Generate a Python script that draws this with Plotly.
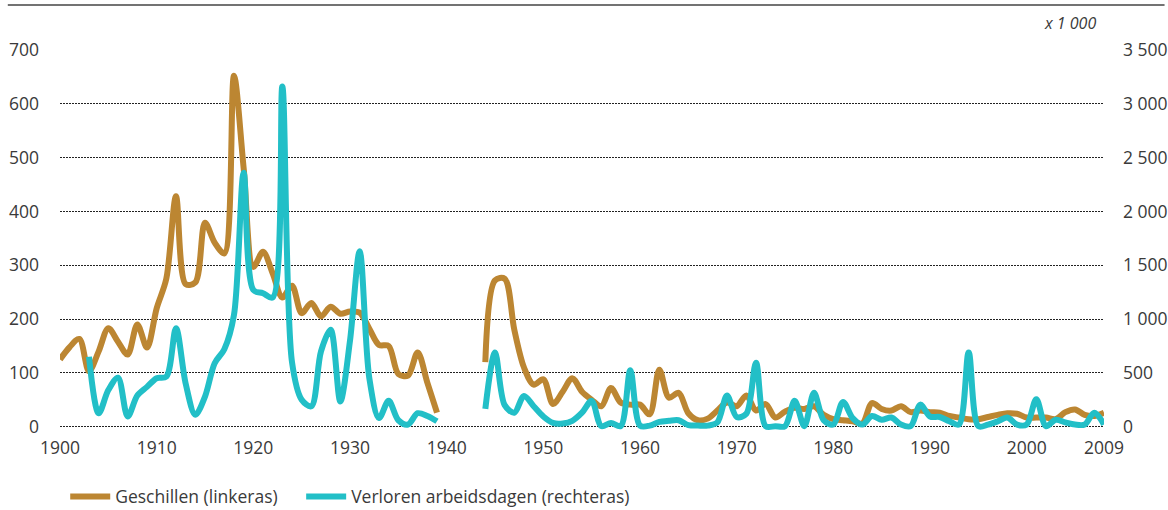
import plotly.graph_objects as go

# Jaartallen; 1940-1943 ontbreken (geen gegevens)
years = list(range(1900, 2009))

# Geschillen (linkeras), 1900-1939
geschillen_voor = [
    125, 148, 163, 103, 140, 183, 158, 134, 190, 147,
    220, 275, 428, 265, 268, 379, 342, 322, 652, 480,
    297, 325, 285, 240, 262, 211, 230, 205, 223, 210,
    214, 212, 182, 152, 150, 98, 95, 138, 82, 26,
]
# Geschillen (linkeras), 1944-2008
geschillen_na = [
    120, 272, 275, 180, 110, 78, 88, 42, 65, 90,
    65, 50, 38, 72, 45, 41, 41, 23, 106, 54,
    63, 25, 12, 15, 30, 45, 38, 58, 30, 42,
    17, 28, 35, 33, 38, 22, 14, 12, 10, 6,
    44, 33, 30, 38, 27, 30, 27, 26, 20, 17,
    14, 14, 18, 22, 25, 24, 17, 17, 17, 14,
    27, 32, 22, 20, 26,
]

# Verloren arbeidsdagen x 1 000 (rechteras), 1900-1939
dagen_voor = [
    None, None, None, 650, 125, 340, 455, 95, 290, 370,
    450, 465, 915, 400, 110, 280, 590, 720, 1040, 2360,
    1270, 1240, 1200, 3160, 600, 250, 190, 700, 900, 235,
    800, 1630, 450, 80, 240, 60, 20, 125, 100, 50,
]
# Verloren arbeidsdagen x 1 000 (rechteras), 1944-2008
dagen_na = [
    165, 690, 200, 130, 285, 190, 95, 35, 30, 55,
    130, 240, 5, 35, 5, 525, 10, 10, 45, 55,
    60, 15, 10, 10, 40, 290, 90, 120, 595, 5,
    5, 5, 240, 5, 315, 60, 20, 230, 80, 20,
    100, 65, 85, 20, 5, 205, 95, 90, 50, 20,
    690, 5, 20, 50, 85, 20, 20, 255, 5, 65,
    40, 20, 20, 130, 20,
]

oorlog = [None] * 4  # 1940-1943
geschillen = geschillen_voor + oorlog + geschillen_na
dagen = dagen_voor + oorlog + dagen_na

x_ticks = [1900, 1910, 1920, 1930, 1940, 1950, 1960, 1970, 1980, 1990, 2000, 2008]
x_labels = ["1900", "1910", "1920", "1930", "1940", "1950", "1960", "1970",
            "1980", "1990", "2000", "2009"]
left_ticks = [0, 100, 200, 300, 400, 500, 600, 700]
right_ticks = [0, 500, 1000, 1500, 2000, 2500, 3000, 3500]
right_labels = ["0", "500", "1 000", "1 500", "2 000", "2 500", "3 000", "3 500"]

BROWN = "#BC8632"
TEAL = "#22BFC7"
TEXT = "#3a3a3a"
FONT = "Open Sans"

fig = go.Figure()

fig.add_trace(
    go.Scatter(
        x=years,
        y=geschillen,
        mode="lines",
        name="Geschillen (linkeras)",
        line=dict(color=BROWN, width=6, shape="spline", smoothing=0.9),
        connectgaps=False,
        legend="legend",
    )
)
fig.add_trace(
    go.Scatter(
        x=years,
        y=dagen,
        mode="lines",
        name="Verloren arbeidsdagen (rechteras)",
        line=dict(color=TEAL, width=6, shape="spline", smoothing=0.9),
        connectgaps=False,
        yaxis="y2",
        legend="legend2",
    )
)

legend_style = dict(
    orientation="h",
    xanchor="left",
    y=-0.172,
    yanchor="middle",
    font=dict(size=17.5, color=TEXT),
    itemwidth=40,
    bgcolor="rgba(0,0,0,0)",
)

# plot area: 0 at y=427, 700 at y=50 -> 0.5386 px per unit
fig.update_layout(
    width=1168,
    height=510,
    margin=dict(l=60, r=64, t=50, b=79, autoexpand=False),
    paper_bgcolor="white",
    plot_bgcolor="white",
    font=dict(family=FONT, size=17.5, color=TEXT),
    showlegend=True,
    legend=dict(x=0.005, **legend_style),
    legend2=dict(x=0.231, **legend_style),
    xaxis=dict(
        range=[1900, 2008],
        tickvals=x_ticks,
        ticktext=x_labels,
        showgrid=False,
        zeroline=False,
        showline=False,
        ticks="",
        ticklabelstandoff=4,
        automargin=False,
    ),
    yaxis=dict(
        range=[-8, 700],
        tickvals=left_ticks,
        showgrid=True,
        gridcolor="#222",
        gridwidth=1,
        griddash="2px,1px",
        zeroline=False,
        showline=False,
        ticks="",
        ticklabelstandoff=20,
        automargin=False,
    ),
    yaxis2=dict(
        range=[-40, 3500],
        tickvals=right_ticks,
        ticktext=right_labels,
        overlaying="y",
        side="right",
        showgrid=False,
        zeroline=False,
        showline=False,
        ticks="",
        ticklabelstandoff=18,
        automargin=False,
    ),
)

# eenheid rechteras
fig.add_annotation(
    text="<i>x 1 000</i>",
    xref="paper",
    yref="paper",
    x=0.994,
    y=1.072,
    xanchor="right",
    yanchor="middle",
    showarrow=False,
    font=dict(size=16, color=TEXT),
)

# lijn bovenaan
fig.add_shape(
    type="line",
    xref="paper",
    yref="paper",
    x0=-0.05,
    x1=1.058,
    y0=1.118,
    y1=1.118,
    line=dict(color="#444", width=1.5),
)

# page body has an 8px default margin; drop it so the figure fills the window
fig.write_html(
    "out.html",
    config={"displayModeBar": False},
    post_script="document.body.style.margin = '0';",
)
